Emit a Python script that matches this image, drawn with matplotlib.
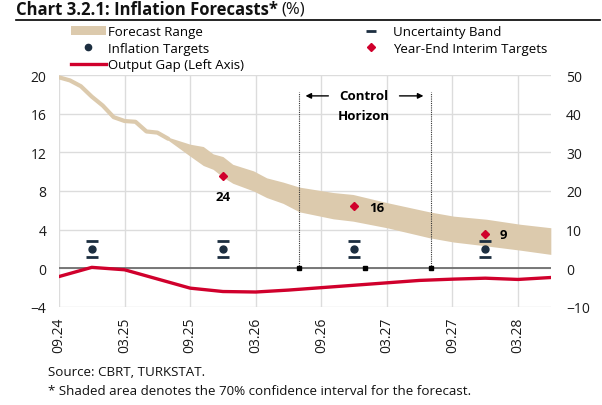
import matplotlib
matplotlib.use("Agg")
import matplotlib.pyplot as plt
from matplotlib.lines import Line2D
from matplotlib.patches import Patch

plt.rcParams['font.family'] = ['Open Sans', 'DejaVu Sans']

# ---- data (x in months since 09.24) ----
tick_pos = [0, 6, 12, 18, 24, 30, 36, 42]
tick_labels = ["09.24", "03.25", "09.25", "03.26", "09.26", "03.27", "09.27", "03.28"]

# realised annual CPI inflation (right axis)
hist_months = [0, 1, 2, 3, 4, 5, 6, 7, 8, 9, 10]
hist_values = [49.4, 48.6, 47.1, 44.4, 42.1, 39.1, 38.1, 37.9, 35.4, 35.1, 33.5]

# forecast range (right axis)
fc_months = [10, 12, 13.2, 14.1, 15, 15.9, 17.8, 19, 20.5, 22, 25.1, 26.9, 30, 33.9, 36.1, 39.1, 42.2, 45]
fc_upper = [33.9, 32.1, 31.5, 29.6, 28.9, 26.9, 25.2, 23.4, 22.3, 21.0, 19.6, 19.1, 17.0, 14.6, 13.5, 12.7, 11.4, 10.5]
fc_lower = [33.1, 29.0, 26.6, 25.6, 23.6, 22.0, 20.0, 18.3, 16.8, 14.6, 12.8, 12.2, 10.5, 7.9, 6.8, 5.8, 4.7, 3.6]

# output gap (left axis)
gap_months = [0, 3, 6, 9, 12, 15, 18, 21, 24, 27, 30, 33, 36, 39, 42, 45]
gap_values = [-0.85, 0.1, -0.15, -1.1, -2.05, -2.4, -2.45, -2.25, -2.0, -1.75, -1.5, -1.25, -1.12, -1.02, -1.15, -0.95]

# targets (right axis)
target_months = [3, 15, 27, 39]
inflation_targets = [5, 5, 5, 5]
band_low = [3, 3, 3, 3]
band_high = [7, 7, 7, 7]
interim_months = [15, 27, 39]
interim_targets = [24, 16, 9]
interim_labels = ["24", "16", "9"]

control_lines = [22, 34]
control_marks = [22, 28, 34]

# ---- colours ----
BAND = "#dccaad"
RED = "#d0002c"
NAVY = "#1c2e40"
GRID = "#dcdcdc"

fig = plt.figure(figsize=(6.02, 4.06), dpi=100)
ax = fig.add_axes([0.098, 0.2414, 0.817, 0.5714])
ax2 = ax.twinx()

ax.set_xlim(0, 45)
ax.set_ylim(-4, 20)
ax2.set_ylim(-10, 50)
ax.set_yticks([-4, 0, 4, 8, 12, 16, 20])
ax2.set_yticks([-10, 0, 10, 20, 30, 40, 50])
ax.set_xticks(tick_pos)
ax.set_xticklabels(tick_labels, rotation=90)

for a in (ax, ax2):
    for s in a.spines.values():
        s.set_visible(False)
    a.tick_params(length=0, labelsize=10, colors="#1a1a1a")
ax.tick_params(axis='y', pad=9)
ax2.tick_params(axis='y', pad=11)
ax.tick_params(axis='x', pad=7)

ax.grid(True, color=GRID, lw=1.0)
ax.set_axisbelow(True)
ax.axhline(0, color="#6e6e6e", lw=1.3, zorder=2)

# forecast band
ax2.plot(hist_months, hist_values, color=BAND, lw=3, solid_capstyle='round', solid_joinstyle='round', zorder=2)
ax2.fill_between(fc_months, fc_lower, fc_upper, color=BAND, lw=0, zorder=2)

# output gap
ax.plot(gap_months, gap_values, color=RED, lw=2.4, zorder=3)

# control horizon
ax2.vlines(control_lines, 0, 45.5, colors="#333333", linestyles=(0, (1, 1)), lw=0.8, zorder=3)
ax2.plot(control_marks, [0] * len(control_marks), ls='none', marker='s', ms=3.5, color="black", zorder=4)
ax2.annotate("", xy=(22.3, 44.6), xytext=(24.9, 44.6),
             arrowprops=dict(arrowstyle='-|>', color='black', lw=1.0, mutation_scale=8))
ax2.annotate("", xy=(33.6, 44.6), xytext=(30.9, 44.6),
             arrowprops=dict(arrowstyle='-|>', color='black', lw=1.0, mutation_scale=8))
ax2.text(27.9, 44.6, "Control", ha='center', va='center', fontsize=9.5, fontweight='bold')
ax2.text(27.9, 39.6, "Horizon", ha='center', va='center', fontsize=9.5, fontweight='bold')

# targets
ax2.plot(target_months, inflation_targets, ls='none', marker='o', ms=5, color=NAVY, zorder=4)
ax2.plot(target_months, band_low, ls='none', marker='_', ms=8, mew=2, color=NAVY, zorder=4)
ax2.plot(target_months, band_high, ls='none', marker='_', ms=8, mew=2, color=NAVY, zorder=4)
ax2.plot(interim_months, interim_targets, ls='none', marker='D', ms=4.5, color=RED, zorder=5)
ax2.text(interim_months[0], interim_targets[0] - 5.3, interim_labels[0], ha='center', va='center',
         fontsize=9.5, fontweight='bold')
ax2.text(interim_months[1] + 1.35, interim_targets[1] - 0.2, interim_labels[1], ha='left', va='center',
         fontsize=9.5, fontweight='bold')
ax2.text(interim_months[2] + 1.35, interim_targets[2] - 0.2, interim_labels[2], ha='left', va='center',
         fontsize=9.5, fontweight='bold')

# title
fig.text(16 / 602, 1 - 10 / 406, "Chart 3.2.1: Inflation Forecasts*", fontsize=12, fontweight='bold',
         ha='left', va='center', color="#111111")
t = fig.texts[-1]
fig.canvas.draw()
bb = t.get_window_extent()
fig.text(bb.x1 / 602 + 4 / 602, 1 - 10 / 406, "(%)", fontsize=12, ha='left', va='center', color="#111111")
fig.add_artist(Line2D([16 / 602, 600 / 602], [1 - 21 / 406] * 2, color="black", lw=1.2))

# legend
h1 = [Patch(facecolor=BAND, edgecolor='none'),
      Line2D([], [], ls='none', marker='o', ms=4.5, color=NAVY),
      Line2D([], [], color=RED, lw=2.4)]
l1 = ["Forecast Range", "Inflation Targets", "Output Gap (Left Axis)"]
fig.legend(h1, l1, loc='upper left', bbox_to_anchor=(66 / 602, 1 - 21 / 406), frameon=False,
           fontsize=9.5, handlelength=2.6, handletextpad=0.2, labelspacing=0.26, borderaxespad=0)
h2 = [Line2D([], [], ls='none', marker='_', ms=7, mew=2, color=NAVY),
      Line2D([], [], ls='none', marker='D', ms=4, color=RED)]
l2 = ["Uncertainty Band", "Year-End Interim Targets"]
fig.legend(h2, l2, loc='upper left', bbox_to_anchor=(351 / 602, 1 - 21 / 406), frameon=False,
           fontsize=9.5, handlelength=2.2, handletextpad=0.6, labelspacing=0.26, borderaxespad=0)

# notes
fig.text(48 / 602, 1 - 373 / 406, "Source: CBRT, TURKSTAT.", fontsize=9.6, ha='left', va='center', color="#111111")
fig.text(48 / 602, 1 - 392 / 406, "* Shaded area denotes the 70% confidence interval for the forecast.",
         fontsize=9.6, ha='left', va='center', color="#111111")

fig.savefig("out.png", dpi=100)
